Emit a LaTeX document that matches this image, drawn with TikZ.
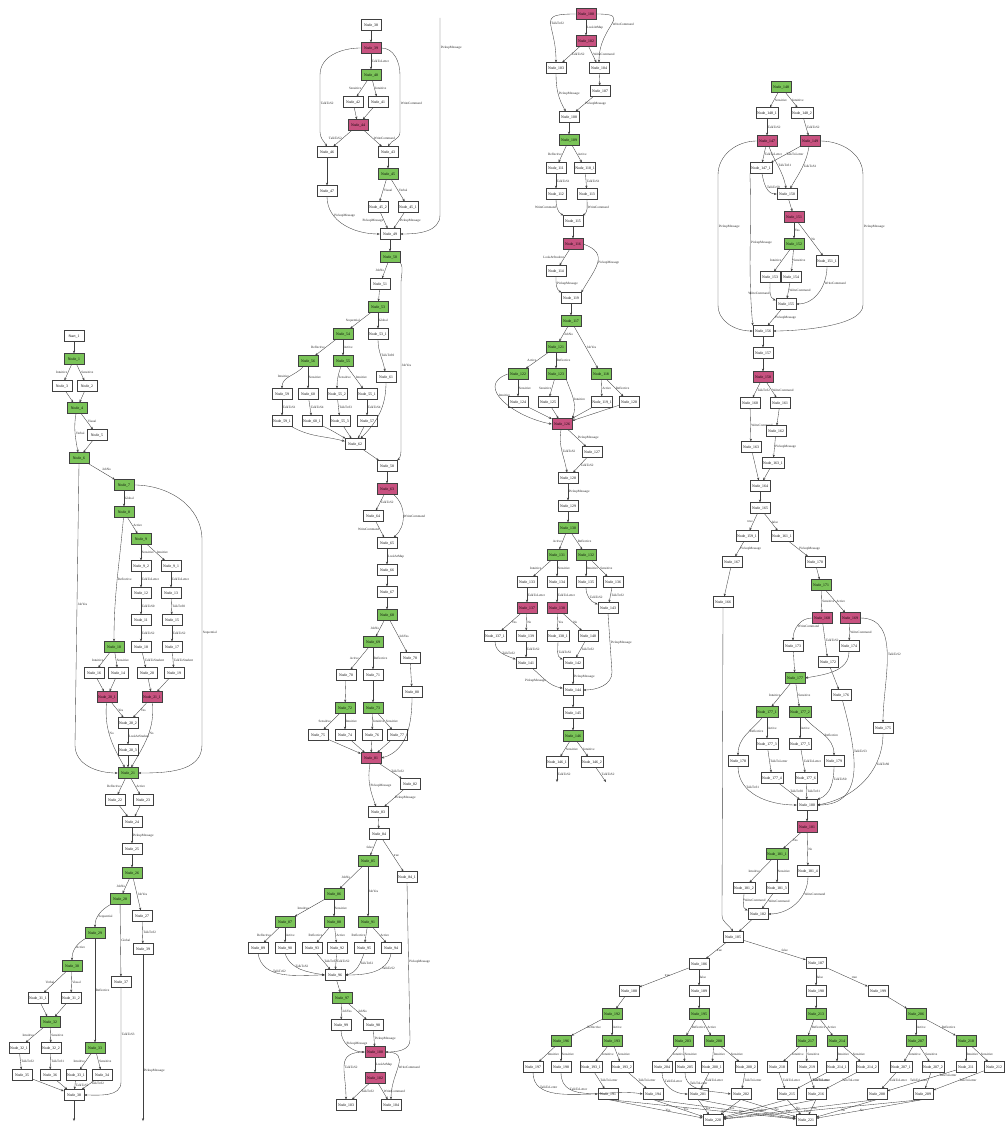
\documentclass[tikz,border=0pt]{standalone}
\usepackage{fontspec}
\setmainfont{Liberation Serif}
\usetikzlibrary{arrows.meta}
\definecolor{ngreen}{RGB}{122,196,88}
\definecolor{npink}{RGB}{200,82,128}
\tikzset{
  wb/.style={draw=black!75, line width=0.55pt, fill=white, font=\fontsize{3.8}{4}\selectfont,
    minimum width=20pt, minimum height=10.5pt, inner xsep=1pt, inner ysep=0.5pt},
  gb/.style={wb, fill=ngreen},
  pb/.style={wb, fill=npink},
  ed/.style={draw=black!75, line width=0.35pt, -{Stealth[length=2.8pt,width=2.2pt]}},
  labR/.style={font=\fontsize{3.3}{3.6}\selectfont, anchor=west, inner sep=0.6pt, text=black!85},
  labL/.style={labR, anchor=east},
  labA/.style={labR, anchor=south west},
}
\begin{document}
\catcode`\_=12
\begin{tikzpicture}[x=1pt,y=1pt]
\fill[white] (0,-1126) rectangle (1005,0);
\useasboundingbox (0,-1126) rectangle (1005,0);

% ---------------- first flow ----------------
\node[wb] (c1s) at (74,-336) {Start_1};
\node[gb] (c1n1) at (74,-359) {Node_1};
\node[wb] (c1n3) at (62,-386) {Node_3};
\node[wb] (c1n2) at (87,-386) {Node_2};
\node[gb] (c1n4) at (77,-408) {Node_4};
\node[wb] (c1n5) at (97,-435) {Node_5};
\node[gb] (c1n6) at (79,-458) {Node_6};
\node[gb] (c1n7) at (124,-485) {Node_7};
\node[gb] (c1n8) at (124,-512) {Node_8};
\node[gb] (c1n9) at (141,-539) {Node_9};
\node[wb] (c1n92) at (141,-566) {Node_9_2};
\node[wb] (c1n91) at (171,-566) {Node_9_1};
\node[wb] (c1n12) at (141,-593) {Node_12};
\node[wb] (c1n13) at (171,-593) {Node_13};
\node[wb] (c1n11) at (141,-620) {Node_11};
\node[wb] (c1n15) at (172,-620) {Node_15};
\node[wb] (c1n18) at (141,-647) {Node_18};
\node[wb] (c1n17) at (172,-647) {Node_17};
\node[wb] (c1n20) at (147,-673) {Node_20};
\node[wb] (c1n19) at (174,-673) {Node_19};
\node[gb] (c1n10) at (114,-647) {Node_10};
\node[wb] (c1n16) at (94,-673) {Node_16};
\node[wb] (c1n14) at (118,-673) {Node_14};
\node[pb] (c1p1) at (107,-697) {Node_20_1};
\node[pb] (c1p2) at (152,-697) {Node_21_1};
\node[wb] (c1n202) at (128,-723) {Node_20_2};
\node[wb] (c1n203) at (128,-750) {Node_20_3};
\node[gb] (c1n21) at (128,-773) {Node_21};
\node[wb] (c1n22) at (115,-800) {Node_22};
\node[wb] (c1n23) at (143,-800) {Node_23};
\node[wb] (c1n24) at (132,-822) {Node_24};
\node[wb] (c1n25) at (132,-849) {Node_25};
\node[gb] (c1n26) at (132,-873) {Node_26};
\node[gb] (c1n28) at (120,-899) {Node_28};
\node[wb] (c1n27) at (142,-916) {Node_27};
\node[gb] (c1n29) at (95,-933) {Node_29};
\node[wb] (c1n39) at (143,-949) {Node_39};
\node[gb] (c1n30) at (72,-966) {Node_30};
\node[wb] (c1n37) at (121,-982) {Node_37};
\node[wb] (c1n311) at (38,-998) {Node_31_1};
\node[wb] (c1n312) at (71,-998) {Node_31_2};
\node[gb] (c1n32) at (50,-1022) {Node_32};
\node[wb] (c1n321) at (19,-1048) {Node_32_1};
\node[wb] (c1n322) at (51,-1048) {Node_32_2};
\node[gb] (c1n33) at (95,-1048) {Node_33};
\node[wb] (c1n35) at (22,-1075) {Node_35};
\node[wb] (c1n36) at (50,-1075) {Node_36};
\node[wb] (c1n331) at (76,-1075) {Node_33_1};
\node[wb] (c1n34) at (102,-1075) {Node_34};
\node[wb] (c1n38) at (74,-1095) {Node_38};
\coordinate (c1f1) at (74,-1121);
\coordinate (c1f2) at (143,-1121);

\draw[ed] (c1s) -- (c1n1);
\draw[ed] (c1n1) -- node[labL]{Intuitive} (c1n3);
\draw[ed] (c1n1) -- node[labR]{Sensitive} (c1n2);
\draw[ed] (c1n3) -- (c1n4);
\draw[ed] (c1n2) -- (c1n4);
\draw[ed] (c1n4) -- node[labR]{Visual} (c1n5);
\draw[ed] (c1n4) to[out=-100,in=100] node[labR]{Verbal} (c1n6);
\draw[ed] (c1n5) -- (c1n6);
\draw[ed] (c1n6) -- node[labA]{JobNo} (c1n7);
\draw[ed] (c1n6.south) -- node[labR]{JobYes} (75,-745) to[out=-90,in=180] (c1n21.west);
\draw[ed] (c1n7) -- node[labR]{Global} (c1n8);
\draw[ed] (c1n7.east) to[out=0,in=90] (202,-540) -- node[labR,pos=0.45]{Sequential} (202,-745) to[out=-90,in=0] (c1n21.east);
\draw[ed] (c1n8) -- node[labR]{Active} (c1n9);
\draw[ed] (c1n8) to[out=-95,in=90] node[labR]{Reflective} (c1n10);
\draw[ed] (c1n9) -- node[labR]{Sensitive} (c1n92);
\draw[ed] (c1n9) -- node[labR]{Intuitive} (c1n91);
\draw[ed] (c1n92) -- node[labR]{TalkToLetter} (c1n12);
\draw[ed] (c1n91) -- node[labR]{TalkToLetter} (c1n13);
\draw[ed] (c1n12) -- node[labR]{TalkToS0} (c1n11);
\draw[ed] (c1n13) -- node[labR]{TalkToS0} (c1n15);
\draw[ed] (c1n11) -- node[labR]{TalkToS2} (c1n18);
\draw[ed] (c1n15) -- node[labR]{TalkToS2} (c1n17);
\draw[ed] (c1n18) -- node[labR]{TalkToStudent} (c1n20);
\draw[ed] (c1n17) -- node[labR]{TalkToStudent} (c1n19);
\draw[ed] (c1n10) -- node[labL]{Intuitive} (c1n16);
\draw[ed] (c1n10) -- node[labR]{Sensitive} (c1n14);
\draw[ed] (c1n16) -- (c1p1);
\draw[ed] (c1n14) -- (c1p1);
\draw[ed] (c1n20) -- (c1p2);
\draw[ed] (c1n19) -- (c1p2);
\draw[ed] (c1p1) -- node[labR]{Yes} (c1n202);
\draw[ed] (c1p2) -- node[labR]{Yes} (c1n202);
\draw[ed] (c1p1) to[out=-95,in=120] node[labR,pos=0.45]{No} (c1n21);
\draw[ed] (c1p2) to[out=-85,in=60] node[labR,pos=0.45]{No} (c1n21);
\draw[ed] (c1n202) -- node[labR]{LookAtStudent} (c1n203);
\draw[ed] (c1n203) -- (c1n21);
\draw[ed] (c1n21) -- node[labL]{Reflective} (c1n22);
\draw[ed] (c1n21) -- node[labR]{Active} (c1n23);
\draw[ed] (c1n22) -- (c1n24);
\draw[ed] (c1n23) -- (c1n24);
\draw[ed] (c1n24) -- node[labR]{PickupMessage} (c1n25);
\draw[ed] (c1n25) -- (c1n26);
\draw[ed] (c1n26) -- node[labL]{JobNo} (c1n28);
\draw[ed] (c1n26) -- node[labR]{JobYes} (c1n27);
\draw[ed] (c1n28) to[out=-150,in=90] node[labR,pos=0.6]{Sequential} (c1n29);
\draw[ed] (c1n28) -- node[labR]{Global} (c1n37);
\draw[ed] (c1n27) -- node[labR]{TalkToS2} (c1n39);
\draw[ed] (c1n29) to[out=-150,in=90] node[labR]{Active} (c1n30);
\draw[ed] (c1n29) -- node[labR]{Reflective} (c1n33);
\draw[ed] (c1n30) -- node[labL]{Verbal} (c1n311);
\draw[ed] (c1n30) -- node[labR]{Visual} (c1n312);
\draw[ed] (c1n311) -- (c1n32);
\draw[ed] (c1n312) -- (c1n32);
\draw[ed] (c1n32) -- node[labL]{Intuitive} (c1n321);
\draw[ed] (c1n32) -- node[labR]{Sensitive} (c1n322);
\draw[ed] (c1n33) -- node[labL]{Intuitive} (c1n331);
\draw[ed] (c1n33) -- node[labR]{Sensitive} (c1n34);
\draw[ed] (c1n321) -- node[labR]{TalkToS2} (c1n35);
\draw[ed] (c1n322) -- node[labR]{TalkToS1} (c1n36);
\draw[ed] (c1n35) -- (c1n38);
\draw[ed] (c1n36) -- (c1n38);
\draw[ed] (c1n331) -- node[labR]{TalkToS2} (c1n38);
\draw[ed] (c1n34) -- node[labR,pos=0.3]{TalkToS2} (c1n38);
\draw[ed] (c1n37.south) -- node[labR]{TalkToS3} (121,-1082) to[out=-90,in=0] (c1n38.east);
\draw[ed] (c1n38) -- (c1f1);
\draw[ed] (c1n39) -- node[labR,pos=0.7]{PickupMessage} (c1f2);

% ---------------- second flow ----------------
\node[wb] (c2n38) at (371,-25) {Node_38};
\node[pb] (c2n39) at (371,-48) {Node_39};
\node[gb] (c2n40) at (371,-75) {Node_40};
\node[wb] (c2n42) at (353,-102) {Node_42};
\node[wb] (c2n41) at (378,-102) {Node_41};
\node[pb] (c2n44) at (358,-125) {Node_44};
\node[wb] (c2n46) at (327,-152) {Node_46};
\node[wb] (c2n43) at (388,-152) {Node_43};
\node[gb] (c2n45) at (388,-174) {Node_45};
\node[wb] (c2n47) at (327,-191) {Node_47};
\node[wb] (c2n452) at (378,-207) {Node_45_2};
\node[wb] (c2n451) at (408,-207) {Node_45_1};
\node[wb] (c2n49) at (390,-234) {Node_49};
\node[gb] (c2n50) at (390,-257) {Node_50};
\node[wb] (c2n51) at (380,-284) {Node_51};
\node[gb] (c2n53) at (378,-307) {Node_53};
\node[gb] (c2n54) at (343,-334) {Node_54};
\node[wb] (c2n531) at (378,-334) {Node_53_1};
\node[gb] (c2n56) at (308,-361) {Node_56};
\node[gb] (c2n55) at (343,-361) {Node_55};
\node[wb] (c2n61) at (386,-377) {Node_61};
\node[wb] (c2n59) at (282,-394) {Node_59};
\node[wb] (c2n60) at (308,-394) {Node_60};
\node[wb] (c2n552) at (337,-394) {Node_55_2};
\node[wb] (c2n551) at (367,-394) {Node_55_1};
\node[wb] (c2n591) at (282,-421) {Node_59_1};
\node[wb] (c2n601) at (312,-421) {Node_60_1};
\node[wb] (c2n553) at (340,-421) {Node_55_3};
\node[wb] (c2n57) at (367,-421) {Node_57};
\node[wb] (c2n62) at (355,-444) {Node_62};
\node[wb] (c2n58) at (387,-466) {Node_58};
\node[pb] (c2n63) at (387,-489) {Node_63};
\node[wb] (c2n64) at (373,-516) {Node_64};
\node[wb] (c2n65) at (387,-543) {Node_65};
\node[wb] (c2n66) at (387,-570) {Node_66};
\node[wb] (c2n67) at (387,-592) {Node_67};
\node[gb] (c2n68) at (387,-615) {Node_68};
\node[gb] (c2n69) at (373,-642) {Node_69};
\node[wb] (c2n78) at (410,-658) {Node_78};
\node[wb] (c2n70) at (346,-675) {Node_70};
\node[wb] (c2n71) at (373,-675) {Node_71};
\node[wb] (c2n80) at (412,-692) {Node_80};
\node[gb] (c2n72) at (345,-708) {Node_72};
\node[gb] (c2n73) at (373,-708) {Node_73};
\node[wb] (c2n75) at (318,-735) {Node_75};
\node[wb] (c2n74) at (345,-735) {Node_74};
\node[wb] (c2n76) at (372,-735) {Node_76};
\node[wb] (c2n77) at (397,-735) {Node_77};
\node[pb] (c2n81) at (371,-758) {Node_81};
\node[wb] (c2n82) at (410,-784) {Node_82};
\node[wb] (c2n83) at (378,-812) {Node_83};
\node[wb] (c2n84) at (379,-834) {Node_84};
\node[gb] (c2n85) at (368,-861) {Node_85};
\node[wb] (c2n841) at (407,-877) {Node_84_1};
\node[gb] (c2n86) at (334,-894) {Node_86};
\node[gb] (c2n87) at (285,-922) {Node_87};
\node[gb] (c2n88) at (334,-922) {Node_88};
\node[gb] (c2n91) at (368,-922) {Node_91};
\node[wb] (c2n89) at (258,-948) {Node_89};
\node[wb] (c2n90) at (285,-948) {Node_90};
\node[wb] (c2n93) at (312,-948) {Node_93};
\node[wb] (c2n92) at (337,-948) {Node_92};
\node[wb] (c2n95) at (364,-948) {Node_95};
\node[wb] (c2n94) at (391,-948) {Node_94};
\node[wb] (c2n96) at (335,-975) {Node_96};
\node[gb] (c2n97) at (342,-998) {Node_97};
\node[wb] (c2n99) at (341,-1025) {Node_99};
\node[wb] (c2n98) at (373,-1025) {Node_98};
\node[pb] (c2n100) at (375,-1052) {Node_100};
\node[pb] (c2n102) at (375,-1078) {Node_102};
\node[wb] (c2n103) at (346,-1105) {Node_103};
\node[wb] (c2n104) at (391,-1105) {Node_104};
\coordinate (c2f) at (440,-18);

\draw[ed] (c2n38) -- (c2n39);
\draw[ed] (c2n39) -- node[labR]{TalkToLetter} (c2n40);
\draw[ed] (c2n39.west) to[out=180,in=90] (320,-75) -- node[labR]{TalkToS2} (320,-132) to[out=-90,in=120] (c2n46.north);
\draw[ed] (c2n39.east) to[out=0,in=90] (400,-75) -- node[labR]{WriteCommand} (400,-132) to[out=-90,in=60] (c2n43.north);
\draw[ed] (c2n40) -- node[labL]{Sensitive} (c2n42);
\draw[ed] (c2n40) -- node[labR]{Intuitive} (c2n41);
\draw[ed] (c2n42) -- (c2n44);
\draw[ed] (c2n41) -- (c2n44);
\draw[ed] (c2n44) -- node[labL]{TalkToS2} (c2n46);
\draw[ed] (c2n44) -- node[labR]{WriteCommand} (c2n43);
\draw[ed] (c2n43) -- (c2n45);
\draw[ed] (c2n45) -- node[labR]{Visual} (c2n452);
\draw[ed] (c2n45) -- node[labR]{Verbal} (c2n451);
\draw[ed] (c2n46) -- (c2n47);
\draw[ed] (c2n47.south) to[out=-90,in=180] node[labR,pos=0.3]{PickupMessage} (c2n49.west);
\draw[ed] (c2n452) -- node[labL]{PickupMessage} (c2n49);
\draw[ed] (c2n451) -- node[labR]{PickupMessage} (c2n49);
\draw[ed] (c2f) -- node[labR,pos=0.15]{PickupMessage} (440,-215) to[out=-90,in=0] (c2n49.east);
\draw[ed] (c2n49) -- (c2n50);
\draw[ed] (c2n50) -- node[labL]{JobNo} (c2n51);
\draw[ed] (c2n50.south east) to[out=-60,in=90] (401,-282) -- node[labR]{JobYes} (401,-448) to[out=-90,in=45] (c2n58.north east);
\draw[ed] (c2n51) -- (c2n53);
\draw[ed] (c2n53) -- node[labL]{Sequential} (c2n54);
\draw[ed] (c2n53) -- node[labR]{Global} (c2n531);
\draw[ed] (c2n531) to[out=-90,in=100] node[labR]{TalkToS0} (c2n61);
\draw[ed] (c2n54) -- node[labL]{Reflective} (c2n56);
\draw[ed] (c2n54) -- node[labR]{Active} (c2n55);
\draw[ed] (c2n56) to[out=-130,in=90] node[labL]{Intuitive} (c2n59);
\draw[ed] (c2n56) -- node[labR]{Sensitive} (c2n60);
\draw[ed] (c2n55) to[out=-110,in=90] node[labR]{Sensitive} (c2n552);
\draw[ed] (c2n55) -- node[labR]{Intuitive} (c2n551);
\draw[ed] (c2n59) -- node[labR]{TalkToS1} (c2n591);
\draw[ed] (c2n60) -- node[labR]{TalkToS4} (c2n601);
\draw[ed] (c2n552) -- node[labR]{TalkToS3} (c2n553);
\draw[ed] (c2n551) -- node[labR]{TalkToS4} (c2n57);
\draw[ed] (c2n591) to[out=-30,in=165] (c2n62);
\draw[ed] (c2n601) to[out=-25,in=150] (c2n62);
\draw[ed] (c2n553) -- (c2n62);
\draw[ed] (c2n57) -- (c2n62);
\draw[ed] (c2n61) to[out=-90,in=45] (c2n62);
\draw[ed] (c2n62) -- (c2n58);
\draw[ed] (c2n58) -- (c2n63);
\draw[ed] (c2n63) -- node[labR]{TalkToS2} (c2n64);
\draw[ed] (c2n63) to[out=-40,in=40] node[labR]{WriteCommand} (c2n65);
\draw[ed] (c2n64) -- node[labL]{WriteCommand} (c2n65);
\draw[ed] (c2n65) -- node[labR]{LookAtMap} (c2n66);
\draw[ed] (c2n66) -- (c2n67);
\draw[ed] (c2n67) -- (c2n68);
\draw[ed] (c2n68) -- node[labL]{JobNo} (c2n69);
\draw[ed] (c2n68) -- node[labR]{JobYes} (c2n78);
\draw[ed] (c2n69) -- node[labL]{Active} (c2n70);
\draw[ed] (c2n69) -- node[labR]{Reflective} (c2n71);
\draw[ed] (c2n70) -- (c2n72);
\draw[ed] (c2n71) -- (c2n73);
\draw[ed] (c2n78) -- (c2n80);
\draw[ed] (c2n72) -- node[labL]{Sensitive} (c2n75);
\draw[ed] (c2n72) -- node[labR]{Intuitive} (c2n74);
\draw[ed] (c2n73) -- node[labR]{Intuitive} (c2n76);
\draw[ed] (c2n73) -- node[labR]{Sensitive} (c2n77);
\draw[ed] (c2n75) -- (c2n81);
\draw[ed] (c2n74) -- (c2n81);
\draw[ed] (c2n76) -- (c2n81);
\draw[ed] (c2n77) -- (c2n81);
\draw[ed] (c2n80) to[out=-90,in=15] (c2n81.east);
\draw[ed] (c2n81) -- node[labR]{TalkToS2} (c2n82);
\draw[ed] (c2n81) to[out=-100,in=110] node[labR]{PickupMessage} (c2n83);
\draw[ed] (c2n82) -- node[labR]{PickupMessage} (c2n83);
\draw[ed] (c2n83) -- (c2n84);
\draw[ed] (c2n84) -- node[labL]{false} (c2n85);
\draw[ed] (c2n84) -- node[labR]{true} (c2n841);
\draw[ed] (c2n85) -- node[labL]{JobNo} (c2n86);
\draw[ed] (c2n85) -- node[labR]{JobYes} (c2n91);
\draw[ed] (c2n86) -- node[labL]{Intuitive} (c2n87);
\draw[ed] (c2n86) -- node[labR]{Sensitive} (c2n88);
\draw[ed] (c2n87) -- node[labL]{Reflective} (c2n89);
\draw[ed] (c2n87) -- node[labR]{Active} (c2n90);
\draw[ed] (c2n88) -- node[labL]{Reflective} (c2n93);
\draw[ed] (c2n88) -- node[labR]{Active} (c2n92);
\draw[ed] (c2n91) -- node[labL]{Reflective} (c2n95);
\draw[ed] (c2n91) -- node[labR]{Active} (c2n94);
\draw[ed] (c2n89.south) to[out=-80,in=180] node[labR,pos=0.35]{TalkToS2} (c2n96.west);
\draw[ed] (c2n90.south) to[out=-70,in=170] node[labR,pos=0.35]{TalkToS2} (c2n96.west);
\draw[ed] (c2n93) -- node[labR]{TalkToS2} (c2n96);
\draw[ed] (c2n92) -- node[labR]{TalkToS2} (c2n96);
\draw[ed] (c2n95.south) to[out=-110,in=10] node[labR,pos=0.35]{TalkToS2} (c2n96.east);
\draw[ed] (c2n94.south) to[out=-100,in=0] node[labR,pos=0.35]{TalkToS2} (c2n96.east);
\draw[ed] (c2n96) -- (c2n97);
\draw[ed] (c2n97) -- node[labR]{JobYes} (c2n99);
\draw[ed] (c2n97) -- node[labR]{JobNo} (c2n98);
\draw[ed] (c2n99) to[out=-90,in=180] node[labR,pos=0.4]{PickupMessage} (c2n100.west);
\draw[ed] (c2n98) -- node[labR]{PickupMessage} (c2n100);
\draw[ed] (c2n841.south) -- node[labR]{PickupMessage} (410,-1040) to[out=-90,in=0] (c2n100.east);
\draw[ed] (c2n100) -- node[labR]{LookAtMap} (c2n102);
\draw[ed] (c2n100.west) to[out=180,in=90,looseness=1.5] node[labR,pos=0.55]{TalkToS2} (c2n103.north);
\draw[ed] (c2n100.east) to[out=0,in=90,looseness=1.5] node[labR,pos=0.55]{WriteCommand} (c2n104.north);
\draw[ed] (c2n102) -- node[labR]{TalkToS2} (c2n103);
\draw[ed] (c2n102) -- node[labR]{WriteCommand} (c2n104);

% ---------------- third flow ----------------
\node[pb] (c3n100) at (586,-14) {Node_100};
\node[pb] (c3n102) at (586,-41) {Node_102};
\node[wb] (c3n103) at (556,-68) {Node_103};
\node[wb] (c3n104) at (599,-68) {Node_104};
\node[wb] (c3n107) at (600,-91) {Node_107};
\node[wb] (c3n108) at (569,-117) {Node_108};
\node[gb] (c3n109) at (569,-140) {Node_109};
\node[wb] (c3n111) at (556,-168) {Node_111};
\node[wb] (c3n1101) at (585,-168) {Node_110_1};
\node[wb] (c3n112) at (556,-194) {Node_112};
\node[wb] (c3n113) at (587,-194) {Node_113};
\node[wb] (c3n115) at (573,-221) {Node_115};
\node[pb] (c3n116) at (573,-244) {Node_116};
\node[wb] (c3n114) at (556,-271) {Node_114};
\node[wb] (c3n119) at (571,-298) {Node_119};
\node[gb] (c3n117) at (571,-321) {Node_117};
\node[gb] (c3n121) at (556,-347) {Node_121};
\node[gb] (c3n122) at (518,-374) {Node_122};
\node[gb] (c3n123) at (556,-374) {Node_123};
\node[gb] (c3n118) at (601,-374) {Node_118};
\node[wb] (c3n124) at (518,-402) {Node_124};
\node[wb] (c3n125) at (548,-402) {Node_125};
\node[wb] (c3n1191) at (602,-402) {Node_119_1};
\node[wb] (c3n120) at (629,-402) {Node_120};
\node[pb] (c3n126) at (562,-424) {Node_126};
\node[wb] (c3n127) at (592,-452) {Node_127};
\node[wb] (c3n128) at (568,-478) {Node_128};
\node[wb] (c3n129) at (568,-506) {Node_129};
\node[gb] (c3n130) at (568,-528) {Node_130};
\node[gb] (c3n131) at (557,-555) {Node_131};
\node[gb] (c3n132) at (586,-555) {Node_132};
\node[wb] (c3n133) at (527,-582) {Node_133};
\node[wb] (c3n134) at (557,-582) {Node_134};
\node[wb] (c3n135) at (586,-582) {Node_135};
\node[wb] (c3n136) at (613,-582) {Node_136};
\node[pb] (c3n137) at (527,-608) {Node_137};
\node[pb] (c3n138) at (557,-608) {Node_138};
\node[wb] (c3n143) at (608,-608) {Node_143};
\node[wb] (c3n1371) at (495,-636) {Node_137_1};
\node[wb] (c3n139) at (526,-636) {Node_139};
\node[wb] (c3n1381) at (558,-636) {Node_138_1};
\node[wb] (c3n140) at (588,-636) {Node_140};
\node[wb] (c3n141) at (526,-663) {Node_141};
\node[wb] (c3n142) at (573,-663) {Node_142};
\node[wb] (c3n144) at (573,-690) {Node_144};
\node[wb] (c3n145) at (573,-713) {Node_145};
\node[gb] (c3n146) at (573,-736) {Node_146};
\node[wb] (c3n1461) at (557,-762) {Node_146_1};
\node[wb] (c3n1462) at (592,-762) {Node_146_2};
\coordinate (c3f1) at (557,-782);
\coordinate (c3f2) at (606,-782);

\draw[ed] (c3n100) -- node[labR]{LookAtMap} (c3n102);
\draw[ed] (c3n100.west) to[out=180,in=90,looseness=2] node[labR,pos=0.5]{TalkToS2} (c3n103.north);
\draw[ed] (c3n100.east) to[out=0,in=90,looseness=2] node[labR,pos=0.5]{WriteCommand} (c3n104.north);
\draw[ed] (c3n102) -- node[labR]{TalkToS2} (c3n103);
\draw[ed] (c3n102) -- node[labR]{WriteCommand} (c3n104);
\draw[ed] (c3n104) -- (c3n107);
\draw[ed] (c3n103) to[out=-90,in=120] node[labR]{PickupMessage} (c3n108);
\draw[ed] (c3n107) -- node[labR]{PickupMessage} (c3n108);
\draw[ed] (c3n108) -- (c3n109);
\draw[ed] (c3n109) -- node[labL]{Reflective} (c3n111);
\draw[ed] (c3n109) -- node[labR]{Active} (c3n1101);
\draw[ed] (c3n111) -- node[labR]{TalkToS1} (c3n112);
\draw[ed] (c3n1101) -- node[labR]{TalkToS1} (c3n113);
\draw[ed] (c3n112) to[out=-90,in=150] node[labL,pos=0.4]{WriteCommand} (c3n115);
\draw[ed] (c3n113) to[out=-90,in=30] node[labR,pos=0.4]{WriteCommand} (c3n115);
\draw[ed] (c3n115) -- (c3n116);
\draw[ed] (c3n116) -- node[labL]{LookAtStudent} (c3n114);
\draw[ed] (c3n116.east) to[out=-20,in=60,looseness=1.5] node[labR]{PickupMessage} (c3n119.north east);
\draw[ed] (c3n114) to[out=-90,in=150] node[labR,pos=0.4]{PickupMessage} (c3n119);
\draw[ed] (c3n119) -- (c3n117);
\draw[ed] (c3n117) -- node[labR]{JobNo} (c3n121);
\draw[ed] (c3n117) -- node[labR]{JobYes} (c3n118);
\draw[ed] (c3n121) -- node[labL]{Active} (c3n122);
\draw[ed] (c3n121) -- node[labR]{Reflective} (c3n123);
\draw[ed] (c3n122) -- node[labR]{Sensitive} (c3n124);
\draw[ed] (c3n122.west) to[out=200,in=170,looseness=1.4] node[labR,pos=0.4]{Intuitive} (c3n126.west);
\draw[ed] (c3n123) -- node[labL]{Sensitive} (c3n125);
\draw[ed] (c3n123.south east) to[out=-70,in=70] node[labR]{Intuitive} (c3n126.north east);
\draw[ed] (c3n118) -- node[labR]{Active} (c3n1191);
\draw[ed] (c3n118) -- node[labR]{Reflective} (c3n120);
\draw[ed] (c3n124) -- (c3n126);
\draw[ed] (c3n125) -- (c3n126);
\draw[ed] (c3n1191) -- (c3n126);
\draw[ed] (c3n120) -- (c3n126);
\draw[ed] (c3n126) -- node[labR]{PickupMessage} (c3n127);
\draw[ed] (c3n126) to[out=-100,in=100] node[labR]{TalkToS2} (c3n128);
\draw[ed] (c3n127) -- node[labR]{TalkToS2} (c3n128);
\draw[ed] (c3n128) -- node[labR]{PickupMessage} (c3n129);
\draw[ed] (c3n129) -- (c3n130);
\draw[ed] (c3n130) -- node[labL]{Active} (c3n131);
\draw[ed] (c3n130) -- node[labR]{Reflective} (c3n132);
\draw[ed] (c3n131) -- node[labL]{Intuitive} (c3n133);
\draw[ed] (c3n131) -- node[labR]{Sensitive} (c3n134);
\draw[ed] (c3n132) -- node[labR]{Intuitive} (c3n135);
\draw[ed] (c3n132) -- node[labR]{Sensitive} (c3n136);
\draw[ed] (c3n133) -- node[labR]{TalkToLetter} (c3n137);
\draw[ed] (c3n134) -- node[labR]{TalkToLetter} (c3n138);
\draw[ed] (c3n135) to[out=-90,in=160] node[labR]{TalkToS2} (c3n143);
\draw[ed] (c3n136) -- node[labR]{TalkToS2} (c3n143);
\draw[ed] (c3n137) -- node[labR]{Yes} (c3n1371);
\draw[ed] (c3n137) -- node[labR]{No} (c3n139);
\draw[ed] (c3n138) -- node[labR]{Yes} (c3n1381);
\draw[ed] (c3n138) -- node[labR]{No} (c3n140);
\draw[ed] (c3n1371) to[out=-90,in=160] node[labR]{TalkToS2} (c3n141);
\draw[ed] (c3n139) -- node[labR]{TalkToS2} (c3n141);
\draw[ed] (c3n1381) to[out=-90,in=160] node[labR]{TalkToS2} (c3n142);
\draw[ed] (c3n140) -- node[labR]{TalkToS2} (c3n142);
\draw[ed] (c3n141) to[out=-40,in=170] node[labL]{PickupMessage} (c3n144);
\draw[ed] (c3n142) -- node[labR]{PickupMessage} (c3n144);
\draw[ed] (c3n143.south) -- node[labR]{PickupMessage} (612,-672) to[out=-90,in=0] (c3n144.east);
\draw[ed] (c3n144) -- (c3n145);
\draw[ed] (c3n145) -- (c3n146);
\draw[ed] (c3n146) -- node[labR]{Sensitive} (c3n1461);
\draw[ed] (c3n146) -- node[labR]{Intuitive} (c3n1462);
\draw[ed] (c3n1461) -- node[labR]{TalkToS2} (c3f1);
\draw[ed] (c3n1462) -- node[labR]{TalkToS2} (c3f2);

% ---------------- fourth flow ----------------
\node[gb] (c4n148) at (781,-87) {Node_148};
\node[wb] (c4n1481) at (767,-113) {Node_148_1};
\node[wb] (c4n1482) at (802,-113) {Node_148_2};
\node[pb] (c4n147) at (767,-141) {Node_147};
\node[pb] (c4n149) at (810,-141) {Node_149};
\node[wb] (c4n1471) at (761,-168) {Node_147_1};
\node[wb] (c4n150) at (787,-194) {Node_150};
\node[pb] (c4n151) at (794,-217) {Node_151};
\node[gb] (c4n152) at (794,-244) {Node_152};
\node[wb] (c4n1511) at (827,-261) {Node_151_1};
\node[wb] (c4n153) at (770,-277) {Node_153};
\node[wb] (c4n154) at (791,-277) {Node_154};
\node[wb] (c4n155) at (786,-304) {Node_155};
\node[wb] (c4n156) at (763,-331) {Node_156};
\node[wb] (c4n157) at (763,-353) {Node_157};
\node[pb] (c4n158) at (763,-377) {Node_158};
\node[wb] (c4n160) at (750,-403) {Node_160};
\node[wb] (c4n161) at (780,-403) {Node_161};
\node[wb] (c4n162) at (776,-431) {Node_162};
\node[wb] (c4n163) at (751,-447) {Node_163};
\node[wb] (c4n1631) at (773,-463) {Node_163_1};
\node[wb] (c4n164) at (760,-486) {Node_164};
\node[wb] (c4n165) at (760,-508) {Node_165};
\node[wb] (c4n1591) at (747,-536) {Node_159_1};
\node[wb] (c4n1611) at (782,-536) {Node_161_1};
\node[wb] (c4n167) at (732,-562) {Node_167};
\node[wb] (c4n170) at (815,-562) {Node_170};
\node[gb] (c4n171) at (821,-585) {Node_171};
\node[wb] (c4n166) at (723,-602) {Node_166};
\node[pb] (c4n168) at (822,-618) {Node_168};
\node[pb] (c4n169) at (850,-618) {Node_169};
\node[wb] (c4n173) at (793,-646) {Node_173};
\node[wb] (c4n174) at (849,-646) {Node_174};
\node[wb] (c4n172) at (828,-662) {Node_172};
\node[gb] (c4n177) at (795,-678) {Node_177};
\node[wb] (c4n176) at (841,-695) {Node_176};
\node[gb] (c4n1771) at (767,-712) {Node_177_1};
\node[gb] (c4n1772) at (800,-712) {Node_177_2};
\node[wb] (c4n175) at (883,-728) {Node_175};
\node[wb] (c4n1773) at (767,-744) {Node_177_3};
\node[wb] (c4n1775) at (800,-744) {Node_177_5};
\node[wb] (c4n178) at (738,-761) {Node_178};
\node[wb] (c4n179) at (834,-761) {Node_179};
\node[wb] (c4n1774) at (772,-778) {Node_177_4};
\node[wb] (c4n1776) at (806,-778) {Node_177_6};
\node[wb] (c4n180) at (807,-805) {Node_180};
\node[pb] (c4n181) at (807,-827) {Node_181};
\node[gb] (c4n1811) at (777,-854) {Node_181_1};
\node[wb] (c4n1814) at (808,-871) {Node_181_4};
\node[wb] (c4n1812) at (744,-888) {Node_181_2};
\node[wb] (c4n1813) at (777,-888) {Node_181_3};
\node[wb] (c4n182) at (758,-914) {Node_182};
\node[wb] (c4n185) at (733,-937) {Node_185};
\node[wb] (c4n186) at (699,-964) {Node_186};
\node[wb] (c4n187) at (816,-963) {Node_187};
\node[wb] (c4n188) at (629,-991) {Node_188};
\node[wb] (c4n189) at (699,-991) {Node_189};
\node[wb] (c4n190) at (816,-991) {Node_190};
\node[wb] (c4n199) at (878,-991) {Node_199};
\node[gb] (c4n192) at (612,-1014) {Node_192};
\node[gb] (c4n195) at (699,-1014) {Node_195};
\node[gb] (c4n213) at (816,-1014) {Node_213};
\node[gb] (c4n206) at (916,-1014) {Node_206};
\node[gb] (c4n196) at (561,-1041) {Node_196};
\node[gb] (c4n193) at (612,-1041) {Node_193};
\node[gb] (c4n203) at (683,-1041) {Node_203};
\node[gb] (c4n200) at (714,-1041) {Node_200};
\node[gb] (c4n217) at (806,-1041) {Node_217};
\node[gb] (c4n214) at (837,-1041) {Node_214};
\node[gb] (c4n207) at (916,-1041) {Node_207};
\node[gb] (c4n210) at (966,-1041) {Node_210};
\node[wb] (c4n197) at (533,-1067) {Node_197};
\node[wb] (c4n198) at (561,-1067) {Node_198};
\node[wb] (c4n1931) at (591,-1067) {Node_193_1};
\node[wb] (c4n1932) at (622,-1067) {Node_193_2};
\node[wb] (c4n204) at (662,-1067) {Node_204};
\node[wb] (c4n205) at (685,-1067) {Node_205};
\node[wb] (c4n2001) at (712,-1067) {Node_200_1};
\node[wb] (c4n2002) at (746,-1067) {Node_200_2};
\node[wb] (c4n218) at (777,-1067) {Node_218};
\node[wb] (c4n219) at (807,-1067) {Node_219};
\node[wb] (c4n2141) at (837,-1067) {Node_214_1};
\node[wb] (c4n2142) at (867,-1067) {Node_214_2};
\node[wb] (c4n2071) at (901,-1067) {Node_207_1};
\node[wb] (c4n2072) at (933,-1067) {Node_207_2};
\node[wb] (c4n211) at (966,-1067) {Node_211};
\node[wb] (c4n212) at (994,-1067) {Node_212};
\node[wb] (c4n191) at (608,-1094) {Node_191};
\node[wb] (c4n194) at (653,-1094) {Node_194};
\node[wb] (c4n201) at (698,-1094) {Node_201};
\node[wb] (c4n202) at (741,-1094) {Node_202};
\node[wb] (c4n215) at (787,-1094) {Node_215};
\node[wb] (c4n216) at (816,-1094) {Node_216};
\node[wb] (c4n208) at (877,-1094) {Node_208};
\node[wb] (c4n209) at (923,-1094) {Node_209};
\node[wb] (c4n220) at (713,-1120) {Node_220};
\node[wb] (c4n221) at (806,-1120) {Node_221};

\draw[ed] (c4n148) -- node[labR]{Sensitive} (c4n1481);
\draw[ed] (c4n148) -- node[labR]{Intuitive} (c4n1482);
\draw[ed] (c4n1481) -- node[labR]{TalkToS2} (c4n147);
\draw[ed] (c4n1482) -- node[labR]{TalkToS2} (c4n149);
\draw[ed] (c4n147) -- node[labR]{TalkToLetter} (c4n1471);
\draw[ed] (c4n149) -- node[labR]{TalkToLetter} (c4n1471);
\draw[ed] (c4n147) to[out=-70,in=100] node[labR,pos=0.45]{TalkToS1} (c4n150);
\draw[ed] (c4n149) to[out=-100,in=60] node[labR,pos=0.45]{TalkToS1} (c4n150);
\draw[ed] (c4n1471) to[out=-80,in=180] node[labR,pos=0.5]{TalkToS0} (c4n150.west);
\draw[ed] (c4n147.west) to[out=180,in=90] (718,-175) -- node[labR,pos=0.4]{PickupMessage} (718,-305) to[out=-90,in=180] (c4n156.west);
\draw[ed] (c4n149.east) to[out=0,in=90] (863,-175) -- node[labR,pos=0.4]{PickupMessage} (863,-305) to[out=-90,in=0,looseness=0.6] (c4n156.east);
\draw[ed] (c4n1471.south west) to[out=-88,in=95] node[labR,pos=0.45]{PickupMessage} (c4n156.north west);
\draw[ed] (c4n150) -- (c4n151);
\draw[ed] (c4n151) -- node[labR]{Yes} (c4n152);
\draw[ed] (c4n151) -- node[labR]{No} (c4n1511);
\draw[ed] (c4n152) -- node[labL]{Intuitive} (c4n153);
\draw[ed] (c4n152) -- node[labR]{Sensitive} (c4n154);
\draw[ed] (c4n153) to[out=-90,in=160] node[labL]{WriteCommand} (c4n155);
\draw[ed] (c4n154) -- node[labR]{WriteCommand} (c4n155);
\draw[ed] (c4n1511) to[out=-90,in=0] node[labR,pos=0.3]{WriteCommand} (c4n155.east);
\draw[ed] (c4n155) -- node[labR]{PickupMessage} (c4n156);
\draw[ed] (c4n156) -- (c4n157);
\draw[ed] (c4n157) -- (c4n158);
\draw[ed] (c4n158) -- node[labR]{TalkToS2} (c4n160);
\draw[ed] (c4n158) -- node[labR]{WriteCommand} (c4n161);
\draw[ed] (c4n160) -- node[labR]{WriteCommand} (c4n163);
\draw[ed] (c4n161) -- (c4n162);
\draw[ed] (c4n162) -- node[labR]{PickupMessage} (c4n1631);
\draw[ed] (c4n163) -- (c4n164);
\draw[ed] (c4n1631) -- (c4n164);
\draw[ed] (c4n164) -- (c4n165);
\draw[ed] (c4n165) -- node[labL]{true} (c4n1591);
\draw[ed] (c4n165) -- node[labR]{false} (c4n1611);
\draw[ed] (c4n1591) -- node[labR]{PickupMessage} (c4n167);
\draw[ed] (c4n1611) -- node[labR]{PickupMessage} (c4n170);
\draw[ed] (c4n167) -- (c4n166);
\draw[ed] (c4n166.south) -- (722,-915) to[out=-90,in=120] (c4n185.north);
\draw[ed] (c4n170) -- (c4n171);
\draw[ed] (c4n171) -- node[labR]{Sensitive} (c4n168);
\draw[ed] (c4n171) -- node[labR]{Active} (c4n169);
\draw[ed] (c4n168.west) to[out=180,in=90] node[labR,pos=0.55]{WriteCommand} (c4n173.north);
\draw[ed] (c4n168) -- node[labR]{TalkToS2} (c4n172);
\draw[ed] (c4n169) -- node[labR]{WriteCommand} (c4n174);
\draw[ed] (c4n169.east) to[out=0,in=90] node[labR,pos=0.5]{TalkToS2} (c4n175.north);
\draw[ed] (c4n173) -- (c4n177);
\draw[ed] (c4n174) to[out=-90,in=10] (c4n177.east);
\draw[ed] (c4n172) -- (c4n176);
\draw[ed] (c4n177) -- node[labL]{Intuitive} (c4n1771);
\draw[ed] (c4n177) -- node[labR]{Sensitive} (c4n1772);
\draw[ed] (c4n1771) to[out=-130,in=90] node[labR,pos=0.4]{Reflective} (c4n178);
\draw[ed] (c4n1771) -- node[labR]{Active} (c4n1773);
\draw[ed] (c4n1772) -- node[labR]{Active} (c4n1775);
\draw[ed] (c4n1772) to[out=-50,in=90] node[labR]{Reflective} (c4n179);
\draw[ed] (c4n1773) -- node[labR]{TalkToLetter} (c4n1774);
\draw[ed] (c4n1775) -- node[labR]{TalkToLetter} (c4n1776);
\draw[ed] (c4n178) to[out=-90,in=180] node[labR,pos=0.3]{TalkToS1} (c4n180.west);
\draw[ed] (c4n1774) -- node[labR]{TalkToS0} (c4n180);
\draw[ed] (c4n1776) -- node[labR]{TalkToS1} (c4n180);
\draw[ed] (c4n179) to[out=-90,in=20] node[labR,pos=0.3]{TalkToS0} (c4n180.north east);
\draw[ed] (c4n176) to[out=-75,in=0,looseness=1.2] node[labR,pos=0.35]{TalkToS3} (c4n180.east);
\draw[ed] (c4n175) to[out=-90,in=10] node[labR,pos=0.3]{TalkToS0} (c4n180.east);
\draw[ed] (c4n180) -- (c4n181);
\draw[ed] (c4n181) -- node[labR]{Yes} (c4n1811);
\draw[ed] (c4n181) -- node[labR]{No} (c4n1814);
\draw[ed] (c4n1811) -- node[labL]{Intuitive} (c4n1812);
\draw[ed] (c4n1811) -- node[labR]{Sensitive} (c4n1813);
\draw[ed] (c4n1812) to[out=-90,in=160] node[labR,pos=0.35]{WriteCommand} (c4n182);
\draw[ed] (c4n1813) -- node[labR]{WriteCommand} (c4n182);
\draw[ed] (c4n1814) to[out=-90,in=0] node[labR,pos=0.3]{WriteCommand} (c4n182.east);
\draw[ed] (c4n182) -- (c4n185);
\draw[ed] (c4n185) -- node[labR]{true} (c4n186);
\draw[ed] (c4n185) -- node[labA,pos=0.6]{false} (c4n187);
\draw[ed] (c4n186) -- node[labA]{true} (c4n188);
\draw[ed] (c4n186) -- node[labR]{false} (c4n189);
\draw[ed] (c4n187) -- node[labR]{false} (c4n190);
\draw[ed] (c4n187) -- node[labA,pos=0.6]{true} (c4n199);
\draw[ed] (c4n188) -- (c4n192);
\draw[ed] (c4n189) -- (c4n195);
\draw[ed] (c4n190) -- (c4n213);
\draw[ed] (c4n199) -- (c4n206);
\draw[ed] (c4n192) -- node[labR]{Reflective} (c4n196);
\draw[ed] (c4n192) -- node[labR]{Active} (c4n193);
\draw[ed] (c4n195) -- node[labR]{Reflective} (c4n203);
\draw[ed] (c4n195) -- node[labR]{Active} (c4n200);
\draw[ed] (c4n213) -- node[labR]{Reflective} (c4n217);
\draw[ed] (c4n213) -- node[labR]{Active} (c4n214);
\draw[ed] (c4n206) -- node[labR]{Active} (c4n207);
\draw[ed] (c4n206) -- node[labR]{Reflective} (c4n210);
\draw[ed] (c4n196) -- node[labR]{Intuitive} (c4n197);
\draw[ed] (c4n196) -- node[labR]{Sensitive} (c4n198);
\draw[ed] (c4n193) -- node[labR]{Intuitive} (c4n1931);
\draw[ed] (c4n193) -- node[labR]{Sensitive} (c4n1932);
\draw[ed] (c4n203) -- node[labR]{Intuitive} (c4n204);
\draw[ed] (c4n203) -- node[labR]{Sensitive} (c4n205);
\draw[ed] (c4n200) -- node[labR]{Intuitive} (c4n2001);
\draw[ed] (c4n200) -- node[labR]{Sensitive} (c4n2002);
\draw[ed] (c4n217) -- node[labR]{Intuitive} (c4n218);
\draw[ed] (c4n217) -- node[labR]{Sensitive} (c4n219);
\draw[ed] (c4n214) -- node[labR]{Intuitive} (c4n2141);
\draw[ed] (c4n214) -- node[labR]{Sensitive} (c4n2142);
\draw[ed] (c4n207) -- node[labR]{Intuitive} (c4n2071);
\draw[ed] (c4n207) -- node[labR]{Sensitive} (c4n2072);
\draw[ed] (c4n210) -- node[labR]{Intuitive} (c4n211);
\draw[ed] (c4n210) -- node[labR]{Sensitive} (c4n212);
\draw[ed] (c4n197) to[out=-90,in=180] node[labR,pos=0.25]{TalkToLetter} (c4n191.west);
\draw[ed] (c4n1931) -- node[labR]{TalkToLetter} (c4n191);
\draw[ed] (c4n198) to[out=-90,in=170] node[labR,pos=0.25]{TalkToLetter} (c4n194.west);
\draw[ed] (c4n1932) -- node[labR]{TalkToLetter} (c4n194);
\draw[ed] (c4n204) to[out=-90,in=180] node[labR,pos=0.25]{TalkToLetter} (c4n201.west);
\draw[ed] (c4n2001) -- node[labR]{TalkToLetter} (c4n201);
\draw[ed] (c4n205) to[out=-90,in=170] node[labR,pos=0.25]{TalkToLetter} (c4n202.west);
\draw[ed] (c4n2002) -- node[labR]{TalkToLetter} (c4n202);
\draw[ed] (c4n218) -- node[labR]{TalkToLetter} (c4n215);
\draw[ed] (c4n2141) -- node[labR]{TalkToLetter} (c4n215);
\draw[ed] (c4n219) -- node[labR]{TalkToLetter} (c4n216);
\draw[ed] (c4n2142) -- node[labR]{TalkToLetter} (c4n216);
\draw[ed] (c4n2071) -- node[labR]{TalkToLetter} (c4n208);
\draw[ed] (c4n211) -- node[labR,pos=0.25]{TalkToLetter} (c4n208);
\draw[ed] (c4n2072) -- node[labL]{TalkToLetter} (c4n209);
\draw[ed] (c4n212) -- node[labR]{TalkToLetter} (c4n209);
\foreach \m in {c4n191,c4n194,c4n201,c4n202,c4n215,c4n216,c4n208,c4n209}{
  \draw[ed] (\m.south) -- node[labR,pos=0.6]{Yes} (c4n220);
  \draw[ed] (\m.south) -- node[labR,pos=0.6]{No} (c4n221);
}
\end{tikzpicture}
\end{document}
